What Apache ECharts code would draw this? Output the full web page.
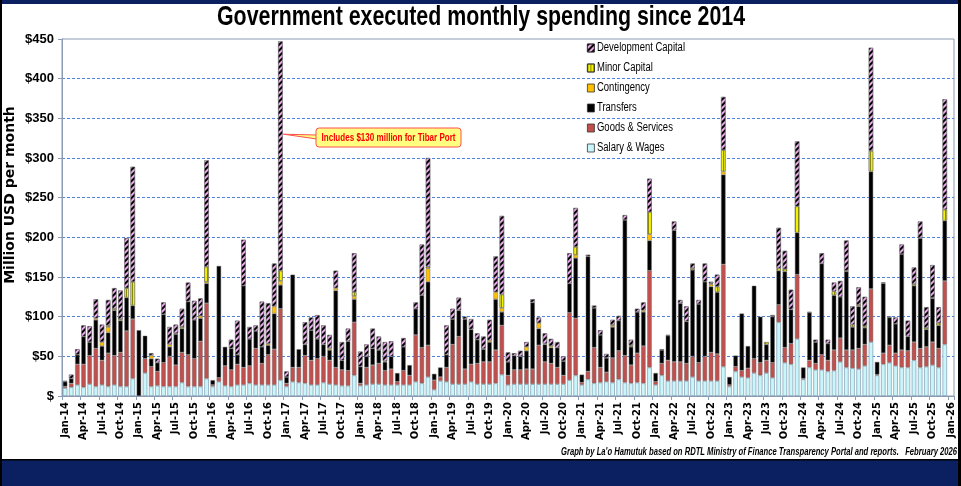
<!DOCTYPE html>
<html><head><meta charset="utf-8">
<script src="https://cdn.jsdelivr.net/npm/echarts@6/dist/echarts.min.js"></script>
<style>html,body{margin:0;padding:0;background:#fff}#c{width:961px;height:486px}</style>
</head><body><div id="c"></div>
<script>
const categories = [
'Jan-14','Feb-14','Mar-14','Apr-14','May-14','Jun-14','Jul-14','Aug-14','Sep-14','Oct-14','Nov-14','Dec-14',
'Jan-15','Feb-15','Mar-15','Apr-15','May-15','Jun-15','Jul-15','Aug-15','Sep-15','Oct-15','Nov-15','Dec-15',
'Jan-16','Feb-16','Mar-16','Apr-16','May-16','Jun-16','Jul-16','Aug-16','Sep-16','Oct-16','Nov-16','Dec-16',
'Jan-17','Feb-17','Mar-17','Apr-17','May-17','Jun-17','Jul-17','Aug-17','Sep-17','Oct-17','Nov-17','Dec-17',
'Jan-18','Feb-18','Mar-18','Apr-18','May-18','Jun-18','Jul-18','Aug-18','Sep-18','Oct-18','Nov-18','Dec-18',
'Jan-19','Feb-19','Mar-19','Apr-19','May-19','Jun-19','Jul-19','Aug-19','Sep-19','Oct-19','Nov-19','Dec-19',
'Jan-20','Feb-20','Mar-20','Apr-20','May-20','Jun-20','Jul-20','Aug-20','Sep-20','Oct-20','Nov-20','Dec-20',
'Jan-21','Feb-21','Mar-21','Apr-21','May-21','Jun-21','Jul-21','Aug-21','Sep-21','Oct-21','Nov-21','Dec-21',
'Jan-22','Feb-22','Mar-22','Apr-22','May-22','Jun-22','Jul-22','Aug-22','Sep-22','Oct-22','Nov-22','Dec-22',
'Jan-23','Feb-23','Mar-23','Apr-23','May-23','Jun-23','Jul-23','Aug-23','Sep-23','Oct-23','Nov-23','Dec-23',
'Jan-24','Feb-24','Mar-24','Apr-24','May-24','Jun-24','Jul-24','Aug-24','Sep-24','Oct-24','Nov-24','Dec-24',
'Jan-25','Feb-25','Mar-25','Apr-25','May-25','Jun-25','Jul-25','Aug-25','Sep-25','Oct-25','Nov-25','Dec-25',
'Jan-26'];

const salaryWages = [
10,11,14,11,15,12,14,12,14,12,12,22,
0,29,12,13,12,12,12,17,12,12,12,22,
12,18,13,12,14,14,16,14,14,14,14,20,
12,18,17,16,14,14,17,15,14,13,13,26,
13,14,15,15,14,14,14,14,14,18,16,24,
8,19,18,15,15,15,18,15,15,15,16,27,
14,15,15,15,15,15,15,15,15,15,20,26,
14,21,16,17,18,17,21,17,16,17,16,36,
14,26,19,19,19,19,24,19,19,19,19,37,
12,31,24,23,29,26,29,23,93,42,40,72,
21,36,33,33,31,32,43,36,35,34,38,68,
26,40,42,38,36,36,45,36,37,39,36,65,
null];
const goodsServices = [
2,5,26,29,36,48,31,42,37,43,70,75,
0,18,25,18,30,38,27,38,40,35,57,95,
2,5,25,21,26,22,22,46,27,38,45,90,
4,18,19,35,31,33,33,30,22,20,19,67,
3,22,24,26,18,20,4,18,12,59,45,40,
12,5,18,50,60,19,22,26,28,28,42,62,
12,18,18,19,19,49,28,26,21,11,85,72,
3,10,45,19,12,31,36,34,23,37,47,122,
4,15,26,24,24,22,26,23,31,36,34,129,
2,6,8,12,18,16,16,19,22,19,26,81,
1,9,8,19,14,26,30,22,23,26,27,67,
1,14,22,16,22,21,23,24,25,29,24,80,
null];
const transfers = [
6,6,12,35,17,36,18,26,57,40,42,17,
83,29,10,11,61,12,39,30,67,49,29,25,
6,141,24,27,12,103,34,22,21,12,45,30,
8,117,23,14,38,25,15,13,97,12,37,29,
21,14,21,17,11,16,11,30,13,33,66,80,
8,12,16,32,33,63,44,30,16,25,64,17,
17,18,17,23,84,21,22,20,25,18,37,76,
10,145,50,41,18,39,38,171,23,52,43,38,
11,17,31,166,74,53,109,74,94,83,78,113,
10,14,72,28,92,58,20,58,43,96,43,53,
14,60,27,115,21,69,52,99,29,53,21,148,
16,88,35,37,121,18,71,139,22,55,29,76,
null];
const contingency = [
0,0,0,0,0,2,5,7,0,0,0,0,
0,0,4,0,0,3,0,0,0,0,3,2,
0,0,0,0,0,0,0,0,0,2,9,5,
0,0,0,0,0,0,0,2,3,0,0,4,
0,0,0,0,1,0,0,0,0,0,0,17,
0,0,0,0,0,0,0,0,0,2,9,5,
0,0,0,5,0,7,1,2,0,0,0,4,
0,0,0,0,0,2,0,0,0,0,2,8,
0,0,0,0,0,0,0,0,0,3,0,4,
0,0,0,0,0,0,0,0,0,0,0,0,
0,0,0,0,0,0,0,0,0,0,0,0,
0,0,0,0,0,0,0,0,0,0,0,0,
null];
const minorCapital = [
0,0,0,0,0,0,0,2,2,2,12,30,
0,0,0,0,0,0,1,2,0,0,0,19,
0,0,0,0,0,0,0,0,0,0,0,13,
0,0,0,0,0,0,0,0,0,0,0,5,
0,0,0,0,0,0,0,0,0,0,0,2,
0,0,0,0,0,0,0,0,1,0,0,17,
0,0,0,0,0,0,0,0,0,0,0,10,
0,0,0,0,0,1,0,0,2,0,0,28,
0,0,0,0,0,0,2,0,0,1,7,27,
0,0,0,0,0,0,3,1,3,3,0,33,
0,0,0,0,0,5,0,1,3,2,2,26,
0,0,0,0,0,0,2,0,2,1,3,14,
null];
const developmentCapital = [
1,5,7,14,20,24,22,32,26,36,63,145,
0,0,3,5,15,22,11,23,24,24,22,134,
0,0,0,11,43,58,15,7,57,51,54,289,
7,0,0,28,16,30,24,17,22,23,16,49,
19,15,25,17,24,19,0,11,0,8,64,137,
0,0,37,13,16,3,13,8,15,26,45,99,
12,3,7,6,4,7,13,9,7,6,38,49,
0,2,3,6,5,6,6,6,7,4,10,42,
0,1,1,11,4,19,6,5,23,2,15,67,
0,0,0,0,0,0,0,1,51,23,25,82,
0,1,3,13,5,11,20,38,23,22,37,130,
0,1,1,8,12,20,21,21,26,41,20,139,
null];
const yTicks = [0,50,100,150,200,250,300,350,400,450];
const seriesNames = ['Salary & Wages','Goods & Services','Transfers','Contingency','Minor Capital','Development Capital'];
const titleText = 'Government executed monthly spending since 2014';
const footerText = "Graph by La'o Hamutuk based on RDTL Ministry of Finance Transparency Portal and reports.   February 2026";
const calloutText = 'Includes $130 million for Tibar Port';

const mctx = document.createElement('canvas').getContext('2d');
function fit(text, font, target){ mctx.font = font; return target / mctx.measureText(text).width; }

const nz = a => a.map(v => (v === 0 ? null : v));
const border = {borderColor:'rgba(110,110,110,0.8)', borderWidth:0.6};
const devDecal = {symbol:'rect', symbolSize:1, dashArrayX:[1,0], dashArrayY:[2,2], color:'#000000', rotation:-Math.PI/4};
const minorDecal = {symbol:'rect', symbolSize:1, dashArrayX:[1,2], dashArrayY:[1,0], color:'#8A8A00', rotation:0};
const seriesDefs = [
  {data: salaryWages, color:'#C9F6FB', extra:{borderColor:'#7E9CB0', borderWidth:0.7}},
  {data: goodsServices, color:'#C0504D'},
  {data: transfers, color:'#000000'},
  {data: contingency, color:'#FFC000'},
  {data: minorCapital, color:'#F2F200', decal:minorDecal},
  {data: developmentCapital, color:'#EBA9EC', decal:devDecal}
];

const titleFont = "bold 27px 'Liberation Sans',Arial,sans-serif";
const legendFont = "12.5px 'Liberation Sans',Arial,sans-serif";
const footerFont = "italic bold 10px 'Liberation Sans',Arial,sans-serif";
const calloutFont = "bold 10px 'Liberation Sans',Arial,sans-serif";
const legendScale = fit('Development Capital', legendFont, 88);
const legendNames = seriesNames.slice().reverse();

const chart = echarts.init(document.getElementById('c'), null, {renderer:'canvas'});
const graphics = [
  {id:'topband', type:'rect', shape:{x:0,y:0,width:961,height:4}, style:{fill:'#0B2060'}, silent:true},
  {id:'botband', type:'rect', shape:{x:0,y:460,width:961,height:26}, style:{fill:'#0B2060'}, silent:true},
  {id:'lborder', type:'rect', shape:{x:0,y:0,width:2,height:486}, style:{fill:'#000'}, silent:true},
  {id:'rborder', type:'rect', shape:{x:958,y:0,width:3,height:486}, style:{fill:'#000'}, silent:true},
  {id:'bline', type:'rect', shape:{x:0,y:459,width:961,height:1.5}, style:{fill:'#000'}, silent:true},
  {id:'title', type:'text', x:481, y:18, scaleX:fit(titleText, titleFont, 528),
    style:{text:titleText, font:titleFont, fill:'#000', align:'center', verticalAlign:'middle'}},
  {id:'yname', type:'text', x:10, y:195, rotation:Math.PI/2,
    style:{text:'Million USD per month', font:"bold 14px 'DejaVu Sans',sans-serif", fill:'#000', align:'center', verticalAlign:'middle'}},
  {id:'footer', type:'text', x:957, y:452, scaleX:fit(footerText, footerFont, 396),
    style:{text:footerText, font:footerFont, fill:'#000', align:'right', verticalAlign:'middle'}}
].concat(legendNames.map((n,k)=>({
  id:'lg'+k, type:'text', x:597, y:48+20*k, scaleX:legendScale,
  style:{text:n, font:legendFont, fill:'#000', align:'left', verticalAlign:'middle'}
})));

const option = {
  animation:false,
  backgroundColor:'#ffffff',
  legend:{
    data:legendNames, orient:'vertical', left:587, top:41, padding:0,
    itemWidth:7, itemHeight:8, itemGap:6, icon:'rect',
    formatter:()=>' ',
    textStyle:{fontSize:12, lineHeight:14, color:'#000'},
    itemStyle:{borderColor:'#333', borderWidth:0.8}
  },
  grid:{left:62, right:7, top:39, bottom:90, show:true, borderColor:'#8A9BB2', borderWidth:1, backgroundColor:'transparent'},
  xAxis:{type:'category', data:categories,
    axisLine:{lineStyle:{color:'#8A9BB2'}},
    axisTick:{show:true, interval:2, length:4, lineStyle:{color:'#8A9BB2'}},
    axisLabel:{interval:2, rotate:90, fontFamily:'DejaVu Sans', fontWeight:'bold', fontSize:10, color:'#000', margin:6}
  },
  yAxis:{type:'value', min:yTicks[0], max:yTicks[yTicks.length-1], interval:yTicks[1]-yTicks[0],
    axisLine:{show:true, lineStyle:{color:'#8A9BB2'}},
    axisTick:{show:true, length:4, lineStyle:{color:'#8A9BB2'}},
    axisLabel:{formatter:v => v===0 ? '$' : '$'+v, fontFamily:"'Liberation Sans',Arial,sans-serif", fontWeight:'bold', fontSize:13, color:'#000', margin:8},
    splitLine:{show:true, showMaxLine:false, showMinLine:false, lineStyle:{color:'#4F81D9', type:[3,2], width:1}}
  },
  series: seriesDefs.map((d,k)=>({
    name:seriesNames[k], type:'bar', stack:'total', barCategoryGap:'26%',
    data:nz(d.data),
    itemStyle:Object.assign({color:d.color}, border, d.extra||{}, d.decal?{decal:d.decal}:{}),
    emphasis:{disabled:true}
  })),
  graphic:graphics
};
chart.setOption(option);

// callout for Dec-16 (Tibar Port)
const tip = chart.convertToPixel({xAxisIndex:0, yAxisIndex:0}, ['Dec-16', 330]);
const bx = 316, by = 128, bw = 145, bh = 19;
chart.setOption({graphic:[
  {id:'cptr', type:'polygon', shape:{points:[[tip[0]+3, tip[1]],[bx+1, by+7],[bx+1, by+11]]}, style:{fill:'#FFFF80', stroke:'#FF5050', lineWidth:1}, z:100},
  {id:'cbox', type:'rect', shape:{x:bx, y:by, width:bw, height:bh, r:3}, style:{fill:'#FFFF80', stroke:'#FF5050', lineWidth:1}, z:101},
  {id:'ctext', type:'text', x:bx+bw/2, y:by+bh/2+0.5, scaleX:fit(calloutText, calloutFont, 134),
    style:{text:calloutText, font:calloutFont, fill:'#FF0000', align:'center', verticalAlign:'middle'}, z:102}
]});
</script>
</body></html>
